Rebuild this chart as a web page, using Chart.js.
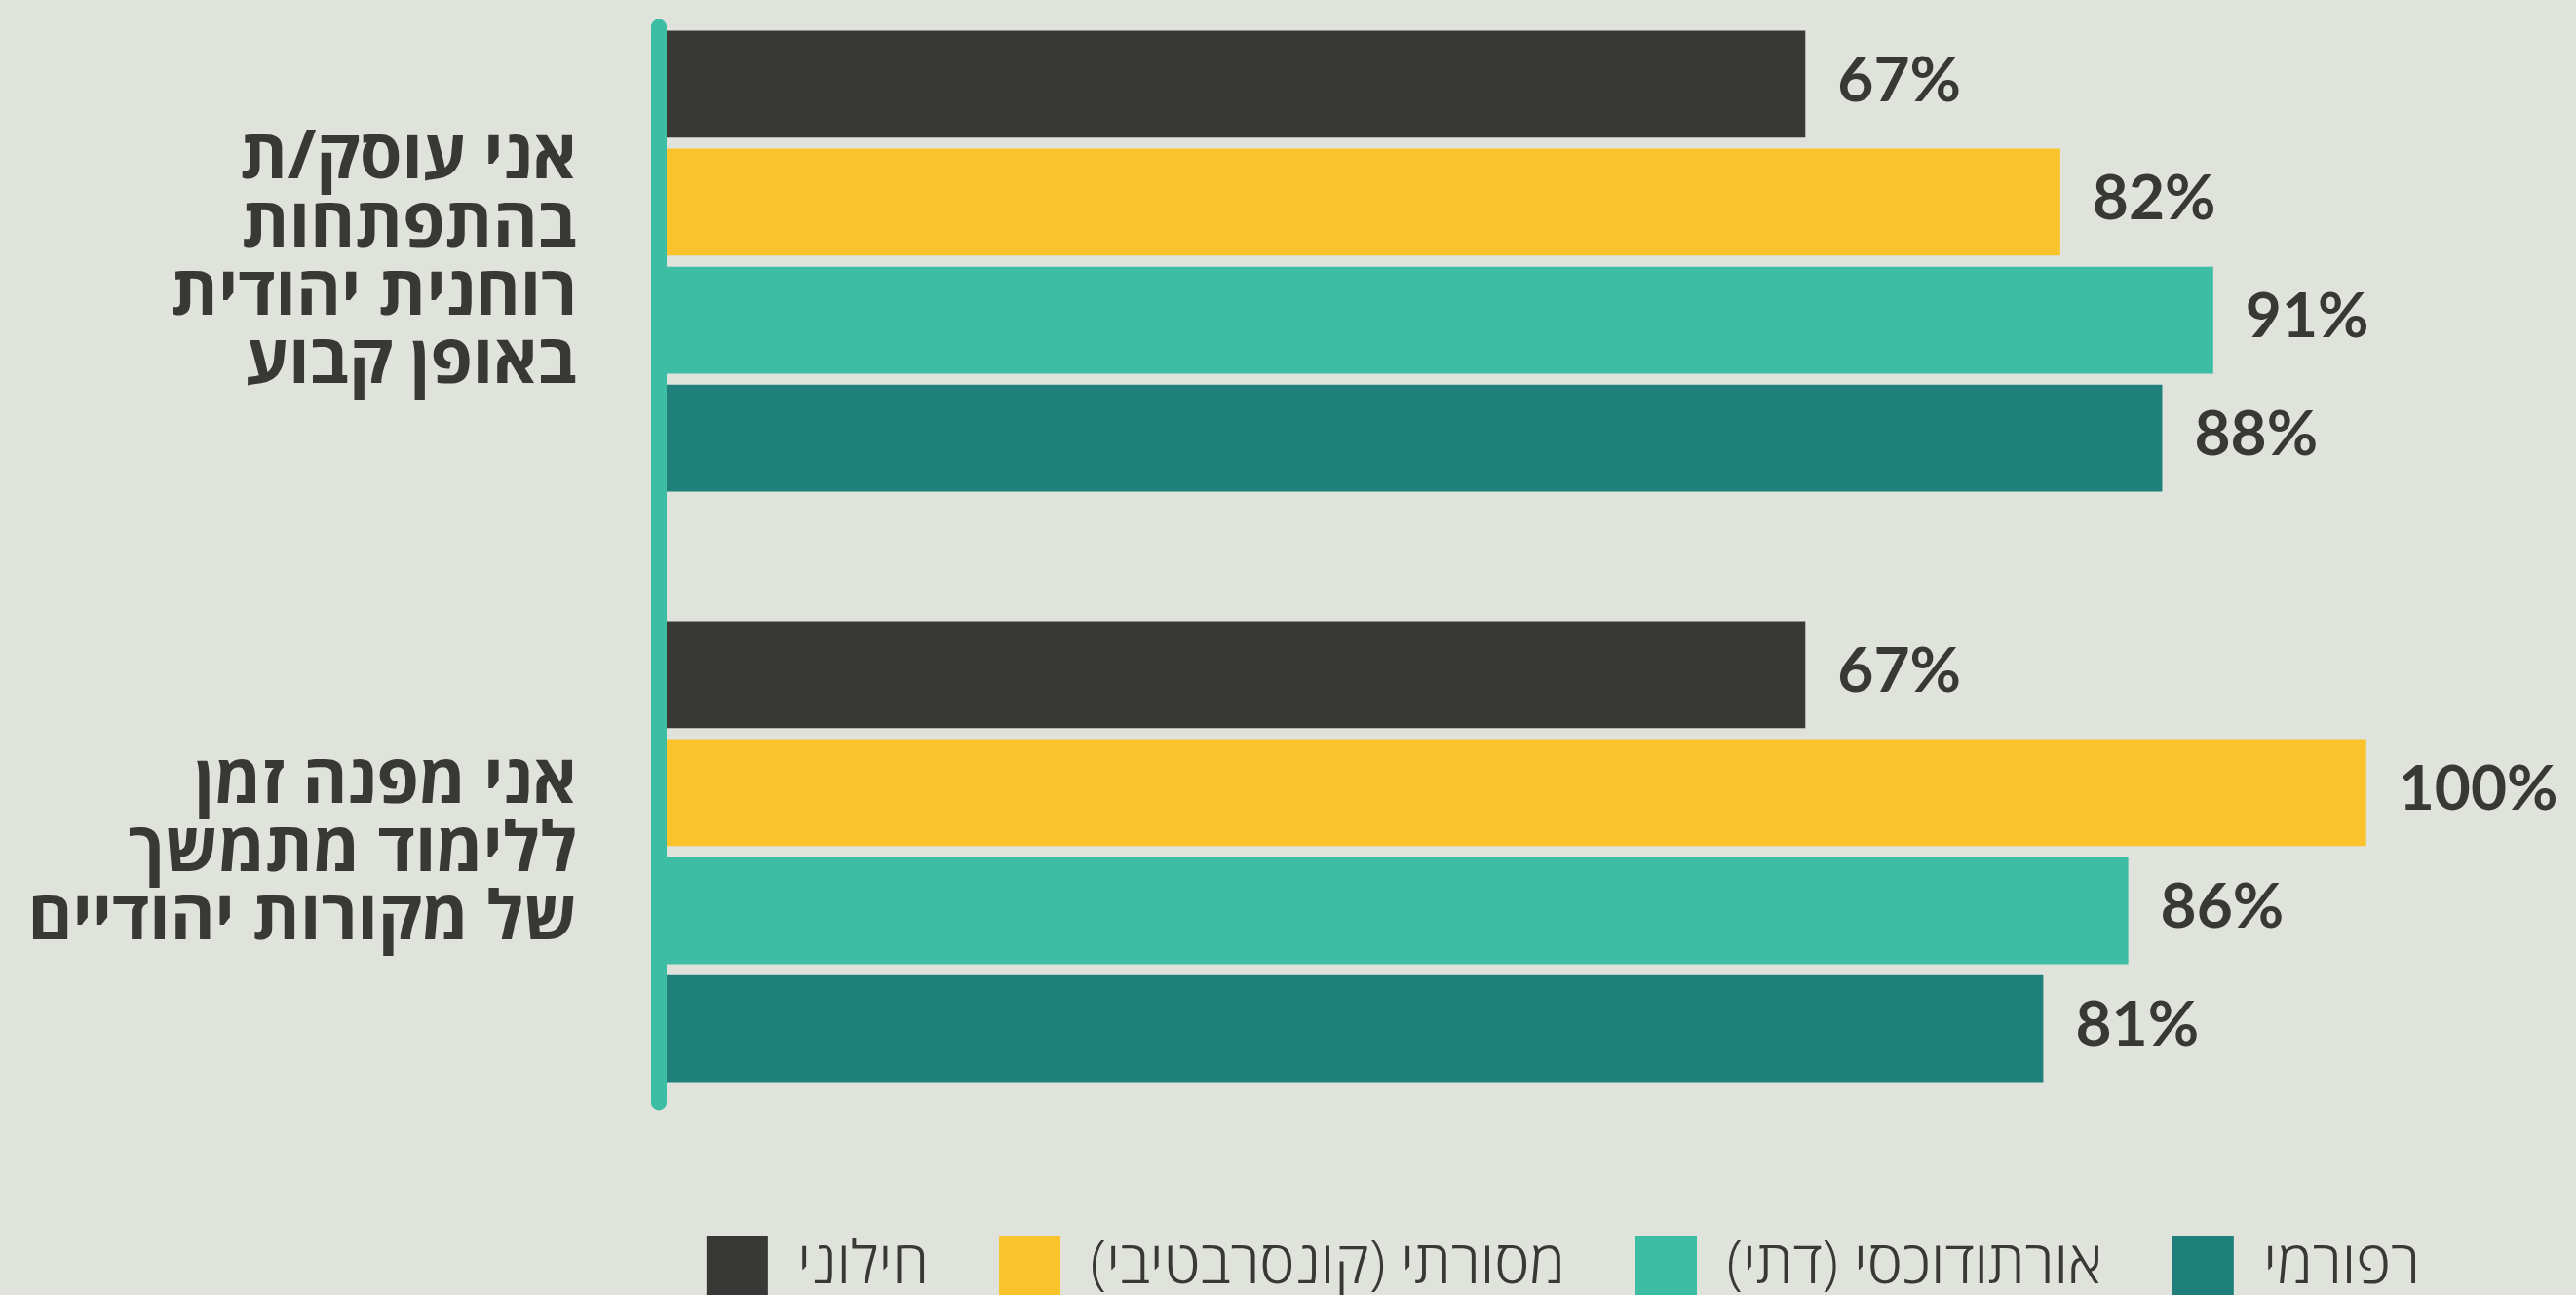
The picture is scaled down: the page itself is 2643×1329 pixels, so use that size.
<!DOCTYPE html>
<html lang="he">
<head>
<meta charset="utf-8">
<title>chart</title>
<script src="https://cdn.jsdelivr.net/npm/chart.js@4.4.1/dist/chart.umd.min.js"></script>
<style>
html, body { margin: 0; padding: 0; background: #e0e2dc; overflow: hidden; }
#wrap { width: 2643px; height: 1329px; position: relative; }
</style>
</head>
<body>
<div id="wrap"><canvas id="canvas" dir="rtl"></canvas></div>
<script>
// categories (multi-line labels) and series
var categories = [
	["אני עוסק/ת", "בהתפתחות", "רוחנית יהודית", "באופן קבוע"],
	["אני מפנה זמן", "ללימוד מתמשך", "של מקורות יהודיים"]
];
var seriesNames = ["חילוני", "מסורתי (קונסרבטיבי)", "אורתודוכסי (דתי)", "רפורמי"];
var seriesColors = ["#383836", "#fac32b", "#3dbda4", "#1f807b"];

var secular = [67, 67];
var traditional = [82, 100];
var orthodox = [91, 86];
var reform = [88, 81];

var textColor = "#383836";
var hebFont = "'Open Sans', 'Liberation Sans', 'DejaVu Sans', sans-serif";

// percentage labels at the end of every bar
var valueLabels = {
	id: "valueLabels",
	afterDatasetsDraw: function(chart) {
		var ctx = chart.ctx;
		ctx.save();
		ctx.direction = "ltr";
		ctx.font = "bold 64px Lato, 'Open Sans', sans-serif";
		ctx.fillStyle = textColor;
		ctx.textAlign = "left";
		ctx.textBaseline = "middle";
		chart.data.datasets.forEach(function(ds, i) {
			chart.getDatasetMeta(i).data.forEach(function(bar, j) {
				ctx.fillText(ds.data[j] + "%", bar.x + 33, bar.y - 3);
			});
		});
		ctx.restore();
	}
};

// rounded teal axis line left of the bars
var axisLine = {
	id: "axisLine",
	afterDatasetsDraw: function(chart) {
		var ctx = chart.ctx;
		var first = chart.getDatasetMeta(0).data[0];
		var lastMeta = chart.getDatasetMeta(chart.data.datasets.length - 1);
		var last = lastMeta.data[lastMeta.data.length - 1];
		var x = chart.chartArea.left - 8;
		var top = first.y - first.height / 2 - 12;
		var bottom = last.y + last.height / 2 + 29;
		ctx.save();
		ctx.strokeStyle = "#3dbda4";
		ctx.lineWidth = 16;
		ctx.lineCap = "round";
		ctx.beginPath();
		ctx.moveTo(x, top + 8);
		ctx.lineTo(x, bottom - 8);
		ctx.stroke();
		ctx.restore();
	}
};

var seriesData = [secular, traditional, orthodox, reform];
var datasets = [];
for (var i = 0; i < seriesData.length; i++) {
	datasets.push({
		label: seriesNames[i],
		data: seriesData[i],
		backgroundColor: seriesColors[i],
		borderWidth: 0,
		categoryPercentage: 0.7987,
		barPercentage: 0.907,
		clip: false
	});
}

var ctx = document.getElementById("canvas").getContext("2d");
window.myBar = new Chart(ctx, {
	type: "bar",
	data: {
		labels: categories,
		datasets: datasets
	},
	options: {
		indexAxis: "y",
		responsive: true,
		maintainAspectRatio: false,
		animation: false,
		layout: {
			padding: { left: 0, right: 88, top: 268, bottom: -12 }
		},
		scales: {
			x: {
				min: 0,
				max: 107.3,
				ticks: { display: false },
				grid: { display: false, drawTicks: false },
				border: { display: false },
				afterFit: function(s) { s.height = 322; }
			},
			y: {
				offset: false,
				ticks: {
					color: textColor,
					padding: 92,
					crossAlign: "near",
					font: { family: hebFont, size: 70, weight: "bold", lineHeight: "70px" }
				},
				grid: { display: false, drawTicks: false },
				border: { display: false },
				afterFit: function(s) { s.width = 684; }
			}
		},
		plugins: {
			legend: {
				position: "bottom",
				align: "end",
				textDirection: "rtl",
				labels: {
					boxWidth: 63,
					boxHeight: 63,
					padding: 72,
					color: textColor,
					font: { family: hebFont, size: 61, weight: "300" }
				}
			},
			tooltip: { enabled: false }
		}
	},
	plugins: [axisLine, valueLabels]
});
</script>
</body>
</html>
